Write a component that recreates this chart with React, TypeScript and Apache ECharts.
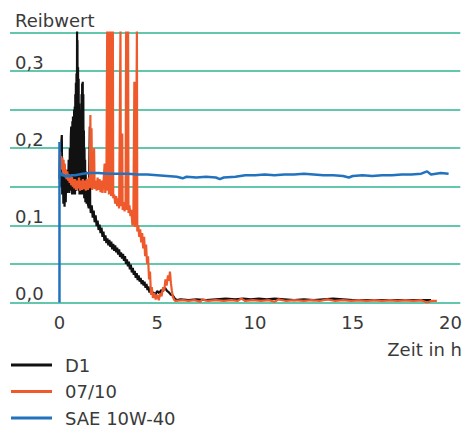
import React, { useEffect, useRef } from "react";
import * as echarts from "echarts";

// Reibwert over time (h)
const d1: [number, number][] = [
  [0.0, 0.16], [0.03, 0.185], [0.06, 0.15], [0.09, 0.205], [0.12, 0.217], [0.14, 0.14], [0.17, 0.175],
  [0.2, 0.128], [0.23, 0.165], [0.26, 0.124], [0.29, 0.158], [0.32, 0.13], [0.35, 0.172], [0.38, 0.142],
  [0.41, 0.16], [0.44, 0.145], [0.47, 0.185], [0.5, 0.142], [0.53, 0.2], [0.56, 0.148], [0.58, 0.215],
  [0.6, 0.228], [0.615, 0.145], [0.63, 0.225], [0.645, 0.14], [0.66, 0.235], [0.675, 0.15], [0.69, 0.241],
  [0.705, 0.145], [0.72, 0.238], [0.735, 0.14], [0.75, 0.25], [0.765, 0.145], [0.78, 0.254], [0.795, 0.14],
  [0.81, 0.27], [0.825, 0.15], [0.84, 0.285], [0.855, 0.145], [0.87, 0.297], [0.885, 0.16], [0.9, 0.352],
  [0.91, 0.17], [0.92, 0.34], [0.935, 0.16], [0.95, 0.305], [0.965, 0.15], [0.98, 0.29], [0.995, 0.145],
  [1.01, 0.258], [1.025, 0.14], [1.04, 0.25], [1.055, 0.14], [1.07, 0.245], [1.085, 0.145], [1.1, 0.25],
  [1.115, 0.14], [1.13, 0.27], [1.145, 0.145], [1.16, 0.284], [1.175, 0.15], [1.19, 0.286], [1.205, 0.14],
  [1.22, 0.27], [1.235, 0.14], [1.25, 0.223], [1.265, 0.135], [1.28, 0.2], [1.295, 0.135], [1.31, 0.185],
  [1.325, 0.13], [1.34, 0.17], [1.355, 0.13], [1.37, 0.16], [1.385, 0.128], [1.4, 0.15], [1.45, 0.128],
  [1.5, 0.122], [1.55, 0.228], [1.57, 0.128], [1.6, 0.116], [1.65, 0.126], [1.7, 0.11], [1.75, 0.119],
  [1.8, 0.104], [1.85, 0.113], [1.9, 0.099], [1.95, 0.106], [2.0, 0.094], [2.05, 0.101], [2.1, 0.09],
  [2.15, 0.097], [2.2, 0.085], [2.25, 0.092], [2.3, 0.08], [2.35, 0.087], [2.4, 0.077], [2.45, 0.083],
  [2.5, 0.074], [2.55, 0.081], [2.6, 0.072], [2.65, 0.079], [2.7, 0.069], [2.75, 0.076], [2.8, 0.067],
  [2.85, 0.074], [2.9, 0.065], [2.95, 0.071], [3.0, 0.062], [3.05, 0.069], [3.1, 0.059], [3.15, 0.065],
  [3.2, 0.057], [3.25, 0.063], [3.3, 0.054], [3.35, 0.06], [3.4, 0.05], [3.45, 0.056], [3.5, 0.047],
  [3.55, 0.053], [3.6, 0.043], [3.65, 0.049], [3.7, 0.039], [3.75, 0.045], [3.8, 0.036], [3.85, 0.041],
  [3.9, 0.032], [3.95, 0.038], [4.0, 0.029], [4.05, 0.035], [4.1, 0.027], [4.15, 0.032], [4.2, 0.024],
  [4.25, 0.029], [4.3, 0.022], [4.35, 0.027], [4.4, 0.019], [4.45, 0.024], [4.5, 0.016], [4.55, 0.021],
  [4.6, 0.013], [4.65, 0.018], [4.7, 0.011], [4.8, 0.013], [4.9, 0.01], [5.0, 0.015], [5.1, 0.012],
  [5.2, 0.016], [5.3, 0.015], [5.4, 0.019], [5.5, 0.015], [5.6, 0.013], [5.7, 0.01], [5.8, 0.009],
  [5.9, 0.005], [6.0, 0.003], [6.2, 0.004], [6.6, 0.003], [7.0, 0.004], [7.5, 0.003], [8.0, 0.004],
  [8.5, 0.005], [9.0, 0.004], [9.4, 0.005], [9.8, 0.004], [10.2, 0.005], [10.6, 0.004], [11.0, 0.005],
  [11.5, 0.004], [12.0, 0.003], [12.5, 0.004], [13.0, 0.003], [13.5, 0.004], [14.0, 0.005], [14.5, 0.004],
  [15.0, 0.003], [15.5, 0.003], [16.0, 0.003], [16.5, 0.003], [17.0, 0.003], [17.5, 0.003], [18.0, 0.003],
  [18.5, 0.003], [19.0, 0.003],
];

const oil0710: [number, number][] = [
  [0.0, 0.17], [0.03, 0.195], [0.06, 0.175], [0.09, 0.19], [0.12, 0.172], [0.15, 0.188], [0.18, 0.168],
  [0.21, 0.185], [0.24, 0.165], [0.27, 0.18], [0.3, 0.163], [0.33, 0.172], [0.36, 0.16], [0.4, 0.17],
  [0.44, 0.158], [0.48, 0.166], [0.52, 0.155], [0.56, 0.165], [0.6, 0.152], [0.64, 0.163], [0.68, 0.15],
  [0.72, 0.16], [0.76, 0.148], [0.8, 0.16], [0.85, 0.146], [0.9, 0.158], [0.95, 0.148], [1.0, 0.162],
  [1.05, 0.145], [1.1, 0.158], [1.15, 0.146], [1.2, 0.16], [1.25, 0.147], [1.3, 0.158], [1.35, 0.145],
  [1.4, 0.16], [1.45, 0.146], [1.5, 0.162], [1.55, 0.148], [1.58, 0.243], [1.61, 0.15], [1.64, 0.226],
  [1.67, 0.146], [1.72, 0.16], [1.77, 0.2], [1.8, 0.147], [1.85, 0.158], [1.9, 0.145], [1.95, 0.162],
  [2.0, 0.146], [2.05, 0.16], [2.1, 0.143], [2.15, 0.158], [2.2, 0.142], [2.25, 0.155], [2.31, 0.18],
  [2.34, 0.142], [2.4, 0.152], [2.44, 0.352], [2.46, 0.352], [2.48, 0.145], [2.51, 0.352], [2.53, 0.14],
  [2.57, 0.15], [2.62, 0.352], [2.64, 0.138], [2.68, 0.148], [2.73, 0.352], [2.75, 0.135], [2.8, 0.14],
  [2.85, 0.128], [2.9, 0.138], [2.95, 0.125], [3.0, 0.135], [3.05, 0.122], [3.12, 0.352], [3.14, 0.125],
  [3.18, 0.13], [3.21, 0.219], [3.23, 0.12], [3.28, 0.13], [3.33, 0.118], [3.38, 0.128], [3.41, 0.352],
  [3.43, 0.352], [3.45, 0.12], [3.47, 0.125], [3.51, 0.352], [3.53, 0.116], [3.58, 0.126], [3.63, 0.112],
  [3.68, 0.12], [3.73, 0.1], [3.78, 0.115], [3.83, 0.286], [3.85, 0.098], [3.9, 0.108], [3.96, 0.352],
  [3.98, 0.092], [4.03, 0.1], [4.08, 0.085], [4.13, 0.095], [4.18, 0.078], [4.23, 0.09], [4.28, 0.07],
  [4.33, 0.085], [4.38, 0.06], [4.43, 0.075], [4.48, 0.05], [4.53, 0.06], [4.58, 0.03], [4.63, 0.04],
  [4.68, 0.01], [4.72, 0.02], [4.78, 0.006], [4.85, 0.012], [4.92, 0.004], [5.0, 0.01], [5.08, 0.003],
  [5.15, 0.012], [5.22, 0.008], [5.3, 0.02], [5.36, 0.015], [5.42, 0.03], [5.48, 0.022], [5.55, 0.035],
  [5.6, 0.028], [5.65, 0.04], [5.7, 0.025], [5.75, 0.015], [5.8, 0.007], [5.88, 0.003], [5.95, 0.002],
  [6.3, 0.003], [6.6, 0.002], [6.9, 0.003], [7.2, 0.001], [7.3, 0.004], [7.6, 0.002], [8.0, 0.003],
  [8.4, 0.002], [8.8, 0.003], [9.1, 0.002], [9.3, 0.005], [9.5, 0.002], [9.9, 0.003], [10.3, 0.002],
  [10.7, 0.003], [11.0, 0.001], [11.2, 0.004], [11.6, 0.002], [12.0, 0.003], [12.5, 0.002], [12.9, 0.003],
  [13.3, 0.002], [13.7, 0.004], [14.1, 0.002], [14.5, 0.003], [14.9, 0.002], [15.3, 0.003], [15.7, 0.002],
  [16.1, 0.003], [16.5, 0.002], [16.9, 0.003], [17.3, 0.002], [17.7, 0.003], [18.1, 0.002], [18.5, 0.003],
  [18.8, 0.0], [19.0, 0.002], [19.3, 0.002],
];

const sae10w40: [number, number][] = [
  [0, 0], [0, 0.208], [0.02, 0.17], [0.05, 0.166], [0.1, 0.168], [0.15, 0.164], [0.2, 0.166], [0.3, 0.163],
  [0.4, 0.165], [0.5, 0.163], [0.6, 0.165], [0.8, 0.165], [1.0, 0.166], [1.2, 0.167], [1.5, 0.168],
  [2.0, 0.168], [2.5, 0.167], [3.0, 0.167], [3.5, 0.167], [4.0, 0.166], [4.5, 0.166], [5.0, 0.165],
  [5.5, 0.164], [6.0, 0.163], [6.3, 0.161], [6.5, 0.163], [7.0, 0.162], [7.5, 0.163], [8.0, 0.162],
  [8.2, 0.16], [8.4, 0.162], [9.0, 0.163], [9.5, 0.165], [10.0, 0.165], [10.5, 0.166], [11.0, 0.165],
  [11.5, 0.166], [12.0, 0.166], [12.5, 0.167], [13.0, 0.166], [13.5, 0.165], [14.0, 0.165], [14.5, 0.164],
  [14.8, 0.162], [15.0, 0.164], [15.5, 0.165], [16.0, 0.164], [16.5, 0.165], [17.0, 0.165], [17.5, 0.166],
  [18.0, 0.166], [18.5, 0.167], [18.8, 0.17], [19.0, 0.166], [19.5, 0.168], [19.9, 0.167],
];

const seriesNames = ["D1", "07/10", "SAE 10W-40"];
const seriesColors = ["#111111", "#ef5a2c", "#2273be"];
const xTickValues = [0, 5, 10, 15, 20];

const FONT = "DejaVu Sans";
const TEXT = "#3a3a3a";

export default function App() {
  const ref = useRef<HTMLDivElement>(null);
  useEffect(() => {
    if (!ref.current) return;
    const chart = echarts.init(ref.current, undefined, { renderer: "svg" });
    const datasets = [d1, oil0710, sae10w40];
    chart.setOption({
      animation: false,
      backgroundColor: "#ffffff",
      grid: { left: 10, right: 0, top: 32.5, bottom: 125.5, containLabel: false },
      xAxis: {
        type: "value",
        min: -2.53,
        max: 20.5,
        axisLine: { show: false },
        axisTick: { show: false },
        splitLine: { show: false },
        axisLabel: {
          customValues: xTickValues,
          margin: 11,
          fontFamily: FONT,
          fontSize: 18,
          color: TEXT,
          formatter: (v: number) => String(v),
        },
      },
      yAxis: {
        type: "value",
        min: 0,
        max: 0.35,
        interval: 0.05,
        axisLine: { show: false },
        axisTick: { show: false },
        splitLine: { show: true, lineStyle: { color: "#2eb592", width: 1.5 } },
        axisLabel: {
          inside: true,
          margin: 5,
          align: "left",
          verticalAlign: "bottom",
          fontFamily: FONT,
          fontSize: 18,
          color: TEXT,
          formatter: (v: number) => {
            const t = v * 10;
            if (Math.abs(t - Math.round(t)) < 1e-6 && v < 0.349) return v.toFixed(1).replace(".", ",");
            return "";
          },
        },
      },
      legend: {
        orient: "vertical",
        left: 11,
        top: 356,
        padding: 0,
        icon: "rect",
        itemWidth: 41,
        itemHeight: 3,
        itemGap: 8.5,
        selectedMode: false,
        data: seriesNames,
        textStyle: { fontFamily: FONT, fontSize: 18, color: TEXT, lineHeight: 18, padding: [0, 0, 0, 8] },
      },
      graphic: [
        { type: "text", left: 15, top: 11, style: { text: "Reibwert", font: `18px "${FONT}"`, fill: TEXT } },
        { type: "text", right: 3, top: 340, style: { text: "Zeit in h", font: `18px "${FONT}"`, fill: TEXT } },
      ],
      series: seriesNames.map((name, i) => ({
        name,
        type: "line",
        data: datasets[i],
        showSymbol: false,
        symbol: "none",
        color: seriesColors[i],
        lineStyle: { color: seriesColors[i], width: i === 2 ? 2.5 : 2.2 },
        clip: true,
        z: 2 + i,
      })),
    });
    return () => chart.dispose();
  }, []);
  return <div ref={ref} style={{ position: "fixed", left: 0, top: 0, width: 465, height: 428 }} />;
}
